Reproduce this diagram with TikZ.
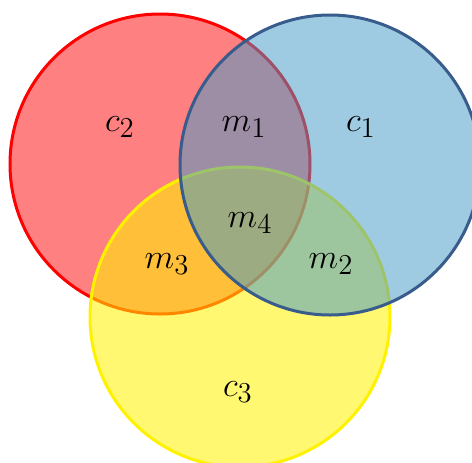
\documentclass[tikz,border=0pt]{standalone}
\usepackage{amsmath, amssymb}
\usepackage{tikz}
\usetikzlibrary{positioning, calc}

\definecolor{setred}{RGB}{255,128,128}
\definecolor{setblue}{RGB}{69,154,200}
\definecolor{bluerim}{RGB}{56,92,140}

\tikzset{
    setlabel/.style={font=\fontsize{19}{22}\selectfont, inner sep=1pt},
    rim/.style={line width=1.5pt},
}

\begin{document}
\begin{tikzpicture}[x=0.5pt, y=-0.5pt]
          \useasboundingbox (0,0) rectangle (472,462);
          \clip (0,0) rectangle (472,462);

          \def\R{150}
          \coordinate (Cred)    at (160,164);
          \coordinate (Cblue)   at (330,165);
          \coordinate (Cyellow) at (240,317);

          % red set, opaque
          \fill[setred] (Cred) circle (\R);
          \draw[red, rim] (Cred) circle (\R);

          % yellow set, see-through fill
          \fill[yellow, fill opacity=0.56] (Cyellow) circle (\R);
          \draw[yellow, rim] (Cyellow) circle (\R);

          % blue set on top
          \fill[setblue, fill opacity=0.52] (Cblue) circle (\R);
          \draw[bluerim, rim] (Cblue) circle (\R);

          \node[setlabel] (c2) at (120,127) {$c_2$};
          \node[setlabel] (m1) at (244,127) {$m_1$};
          \node[setlabel] (c1) at (361,127) {$c_1$};
          \node[setlabel] (m4) at (250,223) {$m_4$};
          \node[setlabel] (m3) at (167,264) {$m_3$};
          \node[setlabel] (m2) at (331,264) {$m_2$};
          \node[setlabel] (c3) at (238,392) {$c_3$};
      \end{tikzpicture}
\end{document}
